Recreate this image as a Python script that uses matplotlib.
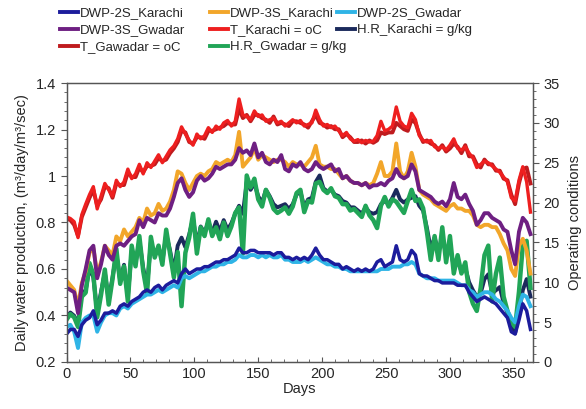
import numpy as np
import matplotlib
matplotlib.use("Agg")
import matplotlib.pyplot as plt
from matplotlib.ticker import MultipleLocator, AutoMinorLocator
from matplotlib.lines import Line2D

plt.rcParams["font.family"] = ["Liberation Sans", "DejaVu Sans"]

# Sampling days (every third day of the year)
days = list(range(0, 366, 3))

# Daily water production, m3/day per m3/sec
dwp2s_karachi = [
    0.32, 0.34, 0.34, 0.31, 0.36, 0.38, 0.39, 0.42, 0.36, 0.38,
    0.41, 0.41, 0.42, 0.41, 0.44, 0.45, 0.44, 0.46, 0.47, 0.48,
    0.50, 0.51, 0.50, 0.52, 0.53, 0.51, 0.53, 0.54, 0.55, 0.54,
    0.58, 0.60, 0.58, 0.59, 0.60, 0.60, 0.61, 0.61, 0.62, 0.63,
    0.63, 0.64, 0.64, 0.65, 0.66, 0.69, 0.67, 0.67, 0.68, 0.68,
    0.67, 0.67, 0.67, 0.67, 0.66, 0.67, 0.67, 0.65, 0.65, 0.64,
    0.65, 0.64, 0.65, 0.64, 0.66, 0.69, 0.66, 0.64, 0.64, 0.63,
    0.62, 0.62, 0.60, 0.61, 0.60, 0.59, 0.60, 0.59, 0.60, 0.59,
    0.60, 0.63, 0.64, 0.61, 0.62, 0.63, 0.70, 0.64, 0.63, 0.64,
    0.68, 0.66, 0.58, 0.57, 0.57, 0.56, 0.55, 0.55, 0.54, 0.54,
    0.54, 0.54, 0.53, 0.53, 0.53, 0.50, 0.48, 0.46, 0.47, 0.48,
    0.47, 0.46, 0.45, 0.43, 0.41, 0.39, 0.33, 0.32, 0.38, 0.45,
    0.42, 0.34,
]
dwp2s_gwadar = [
    0.35, 0.36, 0.33, 0.26, 0.37, 0.39, 0.40, 0.40, 0.33, 0.37,
    0.40, 0.41, 0.41, 0.40, 0.43, 0.44, 0.43, 0.45, 0.46, 0.47,
    0.48, 0.49, 0.49, 0.50, 0.51, 0.50, 0.51, 0.52, 0.53, 0.52,
    0.56, 0.57, 0.56, 0.57, 0.58, 0.59, 0.59, 0.60, 0.61, 0.61,
    0.62, 0.62, 0.63, 0.63, 0.64, 0.66, 0.65, 0.65, 0.66, 0.66,
    0.65, 0.66, 0.65, 0.66, 0.65, 0.65, 0.66, 0.64, 0.64, 0.63,
    0.63, 0.63, 0.64, 0.63, 0.64, 0.65, 0.64, 0.63, 0.62, 0.62,
    0.61, 0.61, 0.60, 0.60, 0.59, 0.59, 0.59, 0.59, 0.59, 0.59,
    0.59, 0.59, 0.60, 0.60, 0.60, 0.61, 0.61, 0.61, 0.62, 0.62,
    0.63, 0.62, 0.58, 0.57, 0.56, 0.56, 0.56, 0.55, 0.55, 0.55,
    0.55, 0.55, 0.54, 0.53, 0.53, 0.51, 0.50, 0.48, 0.49, 0.50,
    0.50, 0.49, 0.47, 0.46, 0.44, 0.42, 0.39, 0.37, 0.44, 0.49,
    0.48, 0.44,
]
dwp3s_karachi = [
    0.55, 0.53, 0.51, 0.44, 0.54, 0.59, 0.67, 0.69, 0.58, 0.63,
    0.70, 0.68, 0.66, 0.74, 0.72, 0.77, 0.74, 0.76, 0.78, 0.82,
    0.80, 0.86, 0.83, 0.84, 0.88, 0.85, 0.86, 0.89, 0.94, 1.02,
    1.01, 0.97, 0.94, 0.97, 1.00, 1.01, 1.00, 1.02, 1.03, 1.06,
    1.05, 1.06, 1.07, 1.06, 1.09, 1.19, 1.04, 1.06, 1.08, 1.12,
    1.07, 1.09, 1.08, 1.07, 1.06, 1.07, 1.07, 1.06, 1.04, 1.06,
    1.05, 1.05, 1.04, 1.06, 1.08, 1.13, 1.05, 1.04, 1.04, 1.03,
    1.03, 1.01, 0.99, 1.00, 0.98, 0.97, 0.97, 0.96, 0.97, 0.96,
    0.97, 1.01, 1.06, 1.00, 1.00, 1.02, 1.14, 1.02, 0.99, 1.02,
    1.10, 1.04, 0.94, 0.92, 0.91, 0.90, 0.88, 0.87, 0.86, 0.85,
    0.87, 0.88, 0.86, 0.86, 0.85, 0.85, 0.83, 0.79, 0.78, 0.79,
    0.79, 0.78, 0.78, 0.75, 0.71, 0.68, 0.60, 0.57, 0.70, 0.73,
    0.68, 0.58,
]
dwp3s_gwadar = [
    0.52, 0.51, 0.50, 0.41, 0.53, 0.60, 0.68, 0.70, 0.56, 0.62,
    0.70, 0.66, 0.64, 0.70, 0.71, 0.70, 0.72, 0.74, 0.75, 0.81,
    0.78, 0.82, 0.81, 0.80, 0.84, 0.83, 0.83, 0.86, 0.91, 0.97,
    0.99, 0.94, 0.91, 0.93, 0.98, 1.00, 0.98, 0.99, 1.01, 1.04,
    1.03, 1.04, 1.05, 1.05, 1.07, 1.12, 1.10, 1.11, 1.09, 1.14,
    1.08, 1.10, 1.06, 1.05, 1.07, 1.06, 1.09, 1.03, 1.02, 1.05,
    1.04, 1.06, 1.03, 1.02, 1.03, 1.06, 1.04, 1.03, 1.04, 1.05,
    1.02, 1.03, 0.99, 1.00, 0.98, 0.97, 0.97, 0.96, 0.97, 0.95,
    0.96, 0.96, 0.97, 0.96, 0.98, 0.99, 1.03, 1.00, 0.99, 1.00,
    1.05, 1.02, 0.94, 0.93, 0.92, 0.91, 0.89, 0.88, 0.89, 0.87,
    0.90, 0.97, 0.91, 0.90, 0.92, 0.88, 0.85, 0.79, 0.81, 0.84,
    0.84, 0.82, 0.81, 0.80, 0.77, 0.76, 0.68, 0.62, 0.76, 0.82,
    0.80, 0.75,
]

# Operating conditions: air temperature (oC) and humidity ratio (g/kg)
t_karachi = [
    18.2, 18.0, 17.6, 15.6, 18.5, 19.8, 21.0, 22.0, 19.2, 20.8,
    22.4, 21.6, 20.8, 22.8, 22.0, 22.6, 24.2, 23.0, 23.6, 24.8,
    23.6, 25.0, 24.4, 25.2, 26.0, 25.0, 25.8, 26.6, 27.1, 28.0,
    29.5, 28.6, 27.8, 27.2, 28.6, 28.0, 28.4, 29.4, 28.8, 29.6,
    29.2, 30.0, 30.3, 29.6, 30.2, 33.0, 31.0, 30.8, 30.4, 31.5,
    30.8, 31.0, 30.2, 30.4, 30.6, 30.0, 30.2, 29.6, 30.0, 30.4,
    30.0, 30.3, 29.6, 29.8, 30.0, 31.6, 30.4, 29.6, 29.8, 29.4,
    29.6, 29.0, 28.4, 28.8, 28.0, 27.7, 27.9, 27.5, 27.8, 27.6,
    27.7, 28.4, 30.2, 29.0, 29.2, 29.6, 32.0, 30.2, 29.6, 29.4,
    31.2, 30.4, 28.4, 27.8, 27.6, 27.8, 27.0, 26.8, 27.0, 26.6,
    27.2, 28.0, 26.8, 26.6, 27.0, 26.2, 25.6, 24.4, 24.8, 25.2,
    25.0, 24.6, 24.2, 23.8, 23.2, 22.6, 20.6, 20.2, 22.8, 24.5,
    22.6, 18.8,
]
t_gawadar = [
    18.0, 17.8, 17.2, 15.8, 18.2, 19.4, 20.6, 21.6, 19.6, 20.4,
    22.0, 21.8, 20.6, 22.4, 22.2, 22.2, 23.8, 23.2, 23.2, 24.4,
    23.8, 24.6, 24.6, 24.8, 25.6, 25.2, 25.4, 26.2, 26.8, 27.6,
    29.0, 28.8, 27.6, 27.4, 28.2, 28.2, 28.0, 29.0, 29.0, 29.2,
    29.4, 29.6, 30.0, 29.8, 29.8, 31.8, 30.6, 31.0, 30.2, 31.0,
    31.0, 30.6, 30.4, 30.0, 30.8, 29.8, 30.0, 29.8, 29.6, 30.2,
    30.2, 30.0, 29.8, 29.4, 30.2, 31.0, 30.0, 29.8, 29.4, 29.6,
    29.2, 29.2, 28.2, 28.6, 28.2, 27.6, 27.6, 27.8, 27.4, 27.8,
    27.5, 27.8, 28.8, 28.6, 28.8, 28.8, 30.0, 29.6, 29.2, 29.0,
    30.4, 30.0, 28.6, 27.6, 27.8, 27.4, 27.2, 26.6, 27.2, 26.4,
    26.8, 27.4, 27.0, 26.2, 27.2, 25.8, 25.8, 24.8, 24.4, 25.4,
    24.8, 24.8, 24.0, 24.0, 23.0, 22.8, 21.0, 19.8, 22.4, 24.2,
    24.4, 22.4,
]
hr_karachi = [
    5.6, 6.2, 5.8, 4.8, 8.6, 9.0, 11.8, 10.6, 6.2, 8.8,
    11.2, 7.8, 10.6, 13.6, 10.2, 12.2, 8.2, 14.0, 12.4, 15.2,
    11.8, 9.4, 15.0, 13.4, 14.4, 12.6, 16.0, 14.0, 11.4, 14.6,
    15.6, 14.4, 16.0, 18.0, 14.8, 17.0, 16.2, 17.6, 16.2, 17.6,
    16.4, 17.8, 16.6, 17.4, 18.6, 19.6, 18.6, 22.6, 21.6, 22.4,
    20.8, 20.0, 21.6, 20.8, 19.8, 19.4, 19.6, 19.8, 19.2, 19.8,
    21.0, 21.4, 19.4, 20.4, 20.6, 22.6, 23.4, 21.8, 21.4, 21.6,
    21.0, 20.8, 20.2, 20.0, 19.4, 19.4, 19.0, 18.6, 19.4, 18.8,
    18.6, 18.8, 19.8, 20.2, 19.8, 20.6, 21.6, 20.4, 20.0, 20.4,
    20.6, 20.8, 19.6, 19.0, 16.8, 14.2, 15.6, 13.8, 15.8, 13.4,
    14.4, 12.0, 12.6, 11.4, 11.8, 10.0, 9.0, 8.2, 8.6, 10.4,
    11.0, 8.6, 9.0, 9.4, 7.4, 6.2, 4.4, 3.6, 6.2, 9.0,
    10.4, 8.2,
]
hr_gwadar = [
    5.3, 6.0, 5.6, 4.4, 8.2, 8.7, 12.4, 11.0, 5.6, 8.4,
    11.6, 7.2, 10.4, 14.2, 9.8, 12.0, 7.6, 14.6, 12.0, 15.8,
    11.4, 8.6, 15.7, 13.1, 14.6, 12.2, 16.6, 13.6, 10.6, 13.8,
    7.0, 13.7, 15.6, 18.6, 13.6, 16.9, 15.8, 17.9, 15.8, 16.9,
    15.4, 17.5, 15.8, 17.0, 18.7, 19.4, 13.6, 23.4, 21.9, 23.0,
    20.4, 19.5, 21.6, 20.6, 19.2, 18.7, 19.0, 19.4, 18.6, 19.5,
    21.2, 21.6, 18.8, 20.2, 20.0, 22.4, 22.6, 21.6, 21.2, 21.8,
    20.8, 20.6, 19.8, 19.8, 19.0, 19.2, 18.7, 18.2, 19.6, 18.4,
    17.8, 16.8, 19.6, 20.7, 19.5, 20.4, 20.1, 19.4, 18.7, 20.2,
    21.6, 20.2, 20.4, 19.3, 16.3, 12.8, 15.8, 12.8, 16.9, 12.5,
    15.8, 11.1, 13.4, 11.1, 12.5, 8.8, 7.3, 6.4, 9.3, 13.4,
    14.6, 7.6, 11.1, 13.1, 8.2, 6.4, 5.0, 4.4, 8.8, 14.6,
    15.2, 9.3,
]

fig = plt.figure(figsize=(5.86, 4.09), dpi=100)
ax = fig.add_axes([0.1135, 0.115, 0.7961, 0.682])
ax2 = ax.twinx()

lw = 2.8
c_2sk, c_3sk, c_2sg, c_3sg = "#1c1c9c", "#f2a62a", "#2fb4e6", "#6e1f82"
c_tk, c_hrk, c_tg, c_hrg = "#ee1f1f", "#1b2a5c", "#bf1b1e", "#21a557"

# right-axis quantities
ax2.plot(days, t_gawadar, color=c_tg, lw=lw, zorder=2)
ax2.plot(days, t_karachi, color=c_tk, lw=lw - 0.4, zorder=3)
ax2.plot(days, hr_karachi, color=c_hrk, lw=lw, zorder=2)
ax2.plot(days, hr_gwadar, color=c_hrg, lw=lw + 0.4, zorder=3)

# left-axis quantities, drawn on a transparent overlay
ax.set_zorder(ax2.get_zorder() + 1)
ax.patch.set_visible(False)
ax.plot(days, dwp3s_karachi, color=c_3sk, lw=lw)
ax.plot(days, dwp3s_gwadar, color=c_3sg, lw=lw)
ax.plot(days, dwp2s_gwadar, color=c_2sg, lw=lw)
ax.plot(days, dwp2s_karachi, color=c_2sk, lw=lw - 0.3)

ax.set_xlim(0, 365)
ax.set_ylim(0.2, 1.4)
ax2.set_ylim(0, 35)

ax.xaxis.set_major_locator(MultipleLocator(50))
ax.xaxis.set_minor_locator(MultipleLocator(10))
ax.yaxis.set_major_locator(MultipleLocator(0.2))
ax.yaxis.set_minor_locator(AutoMinorLocator(5))
ax2.yaxis.set_major_locator(MultipleLocator(5))
ax2.yaxis.set_minor_locator(MultipleLocator(1))
ax.set_yticks([0.2, 0.4, 0.6, 0.8, 1.0, 1.2, 1.4])
ax.set_yticklabels(["0.2", "0.4", "0.6", "0.8", "1", "1.2", "1.4"])

spine_col = "#555555"
text_col = "#262626"
for a in (ax, ax2):
    for s in a.spines.values():
        s.set_color(spine_col)
        s.set_linewidth(0.9)
ax.tick_params(axis="both", which="both", colors=spine_col, labelcolor=text_col,
               labelsize=10.5)
ax2.tick_params(axis="y", which="both", colors=spine_col, labelcolor=text_col,
                labelsize=10.5)
ax.tick_params(axis="x", which="both", direction="in")
ax.tick_params(axis="y", which="major", length=4)
ax.tick_params(axis="y", which="minor", length=2.5)
ax2.tick_params(axis="y", which="major", length=4)
ax2.tick_params(axis="y", which="minor", length=2.5)

ax.set_xlabel("Days", fontsize=10.5, color=text_col, labelpad=1)
ax.set_ylabel("Daily water production, (m\u00b3/day/m\u00b3/sec)", fontsize=10.5,
              color=text_col, labelpad=5)
ax2.set_ylabel("Operating conditions", fontsize=10.5, color=text_col, labelpad=6)

# legend laid out as three separate columns across the top
legend_columns = [
    (60, [("DWP-2S_Karachi", c_2sk), ("DWP-3S_Gwadar", c_3sg), ("T_Gawadar = oC", c_tg)]),
    (210, [("DWP-3S_Karachi", c_3sk), ("T_Karachi = oC", c_tk), ("H.R_Gwadar = g/kg", c_hrg)]),
    (337, [("DWP-2S_Gwadar", c_2sg), ("H.R_Karachi = g/kg", c_hrk)]),
]
W, H = 586, 409
for x_px, entries in legend_columns:
    handles = [Line2D([], [], color=c, lw=2.8) for _, c in entries]
    labels = [t for t, _ in entries]
    leg = fig.legend(handles, labels, loc="upper left",
                     bbox_to_anchor=(x_px / W, 1 - 7 / H),
                     frameon=False, fontsize=9.5, handlelength=1.35,
                     handletextpad=0.15, labelspacing=0.36, borderpad=0,
                     borderaxespad=0)
    for t in leg.get_texts():
        t.set_color(text_col)

fig.savefig("out.png", dpi=100)
